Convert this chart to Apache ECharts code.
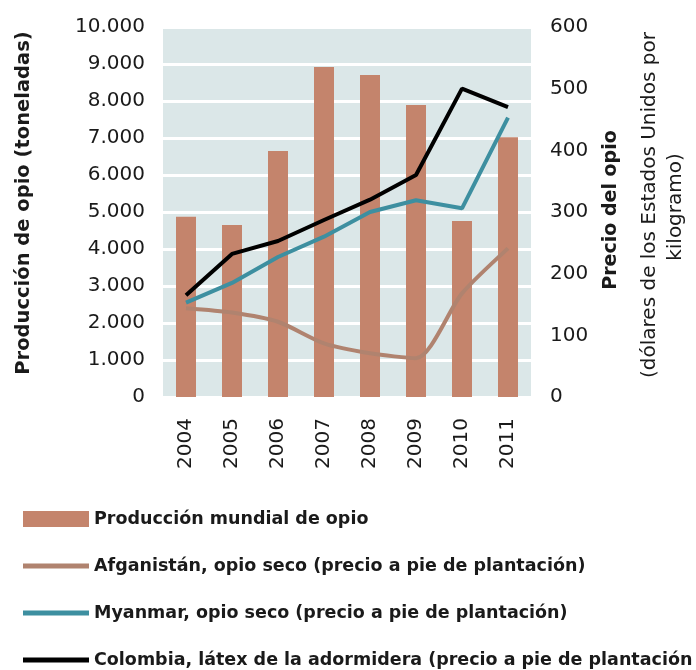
<!DOCTYPE html>
<html>
<head>
<meta charset="utf-8">
<script src="https://cdn.jsdelivr.net/npm/echarts@6/dist/echarts.min.js"></script>
<style>html,body{margin:0;padding:0;background:#fff}#c{width:696px;height:670px}</style>
</head>
<body>
<div id="c"></div>
<script>
const years = ['2004','2005','2006','2007','2008','2009','2010','2011'];
const production = [4870, 4650, 6650, 8920, 8700, 7890, 4760, 7020];
const afghanistan = [144, 137, 122, 87, 71, 63, 168, 241];
const myanmar = [153, 185, 227, 260, 300, 319, 306, 453];
const colombia = [165, 232, 253, 287, 320, 360, 500, 470];
const leftTicks = [0, 10000, 1000];
const rightTicks = [0, 600, 100];
const names = ['Producción mundial de opio','Afganistán, opio seco (precio a pie de plantación)','Myanmar, opio seco (precio a pie de plantación)','Colombia, látex de la adormidera (precio a pie de plantación'];

const FONT = 'DejaVu Sans';
const TXT = '#1a1a1a';
const chart = echarts.init(document.getElementById('c'), null, {renderer:'canvas'});
const lineIcon = 'path://M0,0h66v5h-66z';
const legendBase = {
  orient: 'vertical', left: 23, padding: 0,
  itemWidth: 66, itemHeight: 16, itemGap: 29,
  symbolKeepAspect: true,
  itemStyle: {borderWidth: 0},
  textStyle: {fontFamily: FONT, fontSize: 17.5, fontWeight: 'bold', color: TXT}
};
chart.setOption({
  animation: false,
  backgroundColor: '#ffffff',
  textStyle: {fontFamily: FONT},
  grid: {left: 163, right: 165, top: 27, bottom: 273, show: true, backgroundColor: '#dbe7e8', borderWidth: 0},
  legend: [
    Object.assign({}, legendBase, {top: 510, data: [
      {name: names[0], icon: 'rect'},
      {name: names[1], icon: lineIcon},
      {name: names[2], icon: lineIcon}
    ]}),
    Object.assign({}, legendBase, {top: 651, data: [
      {name: names[3], icon: lineIcon}
    ]})
  ],
  xAxis: {
    type: 'category', data: years,
    axisLine: {show: false}, axisTick: {show: false},
    axisLabel: {rotate: 90, margin: 21, fontSize: 20, color: TXT, fontFamily: FONT}
  },
  yAxis: [
    {type: 'value', min: leftTicks[0], max: leftTicks[1], interval: leftTicks[2],
     axisLine: {show: false}, axisTick: {show: false},
     splitLine: {show: true, lineStyle: {color: '#ffffff', width: 3}},
     axisLabel: {margin: 18, fontSize: 20, color: TXT, fontFamily: FONT,
       formatter: v => String(v).replace(/\B(?=(\d{3})+(?!\d))/g, '.')}},
    {type: 'value', min: rightTicks[0], max: rightTicks[1], interval: rightTicks[2], position: 'right',
     axisLine: {show: false}, axisTick: {show: false}, splitLine: {show: false},
     axisLabel: {margin: 19, fontSize: 20, color: TXT, fontFamily: FONT}}
  ],
  graphic: [
    {type: 'text', x: 24, y: 203, rotation: Math.PI/2,
     style: {text: 'Producción de opio (toneladas)', fontFamily: FONT, fontSize: 19.5, fontWeight: 'bold', fill: TXT, align: 'center', verticalAlign: 'middle'}},
    {type: 'text', x: 611, y: 210, rotation: Math.PI/2,
     style: {text: 'Precio del opio', fontFamily: FONT, fontSize: 19, fontWeight: 'bold', fill: TXT, align: 'center', verticalAlign: 'middle'}},
    {type: 'text', x: 650, y: 205, rotation: Math.PI/2,
     style: {text: '(dólares de los Estados Unidos por', fontFamily: FONT, fontSize: 20, fill: TXT, align: 'center', verticalAlign: 'middle'}},
    {type: 'text', x: 676, y: 207, rotation: Math.PI/2,
     style: {text: 'kilogramo)', fontFamily: FONT, fontSize: 20, fill: TXT, align: 'center', verticalAlign: 'middle'}}
  ],
  series: [
    {name: names[0], type: 'bar', data: production, barWidth: 20, itemStyle: {color: '#c4846c'}},
    {name: names[1], type: 'line', yAxisIndex: 1, data: afghanistan, smooth: 0.25, symbol: 'none',
     lineStyle: {color: '#b0836f', width: 4}, itemStyle: {color: '#b0836f'}},
    {name: names[2], type: 'line', yAxisIndex: 1, data: myanmar, smooth: false, symbol: 'none',
     lineStyle: {color: '#3d8fa0', width: 4}, itemStyle: {color: '#3d8fa0'}},
    {name: names[3], type: 'line', yAxisIndex: 1, data: colombia, symbol: 'none',
     lineStyle: {color: '#000000', width: 4}, itemStyle: {color: '#000000'}}
  ]
});
</script>
</body>
</html>
